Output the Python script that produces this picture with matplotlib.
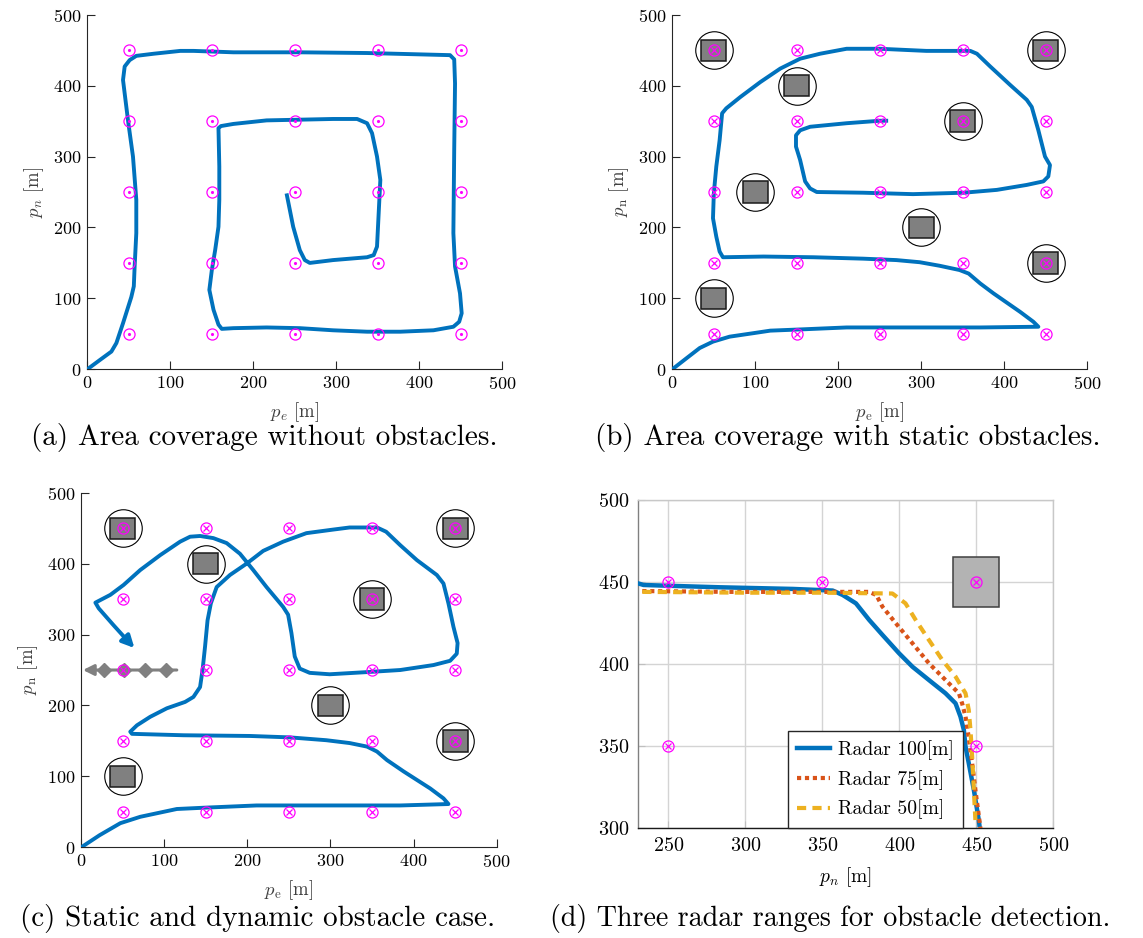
import matplotlib
matplotlib.use('Agg')
import matplotlib.pyplot as plt
from matplotlib.patches import Rectangle

plt.rcParams['font.family'] = 'cmr10'
plt.rcParams['mathtext.fontset'] = 'cm'
plt.rcParams['axes.formatter.use_mathtext'] = True

BLUE = '#0072BD'
ORANGE = '#D95319'
YELLOW = '#EDB120'
MAGENTA = '#FF00FF'

# waypoint grid
wp_cols = [50, 150, 250, 350, 450]
wp_rows = [50, 150, 250, 350, 450]

# (a) trajectory without obstacles
path_a_x = [0, 15, 29, 35, 43, 53, 56, 57, 59, 59, 55, 49, 43, 45, 51, 59, 80, 112, 128, 176,
            256, 337, 437, 442, 443, 442, 441, 443, 449, 451, 448, 441, 417, 377, 337, 296, 256,
            216, 176, 162, 158, 152, 147, 150, 154, 158, 159, 159, 158, 161, 176, 216, 256, 296,
            325, 337, 343, 349, 353, 351, 349, 345, 337, 296, 268, 262, 256, 248, 240]
path_a_y = [0, 13, 25, 37, 65, 102, 117, 145, 192, 239, 300, 351, 408, 427, 436, 442, 445, 449,
            449, 447, 447, 446, 443, 437, 403, 309, 192, 145, 107, 79, 67, 60, 55, 53, 53, 55, 58,
            59, 58, 57, 63, 84, 112, 140, 168, 201, 239, 286, 340, 343, 346, 351, 352, 353, 353,
            347, 333, 300, 267, 220, 173, 161, 158, 154, 150, 154, 168, 201, 248]

# (b) trajectory with static obstacles
path_b_x = [0, 17, 33, 49, 69, 98, 118, 150, 210, 290, 371, 441, 435, 419, 387, 371, 357, 346,
            322, 298, 270, 230, 170, 110, 61, 57, 53, 49, 50, 53, 57, 60, 65, 82, 106, 130, 154,
            178, 210, 250, 306, 359, 367, 383, 407, 427, 433, 441, 449, 455, 453, 447, 427, 391,
            351, 290, 230, 174, 166, 160, 154, 149, 149, 154, 166, 210, 250, 260]
path_b_y = [0, 15.5, 30, 39, 46, 51, 54.5, 56, 59, 59, 59, 60, 67, 81, 107, 121, 135, 140, 146,
            151, 154, 156, 158, 159, 158, 166, 187, 213, 248, 286, 323, 361, 368, 384, 405, 424,
            438, 445, 452, 452, 449, 449, 445, 427, 401, 380, 370, 337, 300, 288, 272, 265, 260,
            253, 249, 247, 249, 250, 255, 265, 295, 314, 330, 337, 342, 347, 350.5, 350.5]
obs_b_x = [50, 150, 350, 450, 100, 300, 450, 50]
obs_b_y = [450, 400, 350, 450, 250, 200, 150, 100]

# (c) trajectory with static and dynamic obstacles
path_c_x = [0, 22, 47, 71, 115, 151, 211, 303, 384, 442, 436, 420, 388, 368, 356, 344, 323, 295,
            251, 203, 123, 61, 59, 67, 83, 103, 125, 135, 143, 146, 149, 152, 156, 163, 179, 199,
            219, 243, 271, 303, 323, 356, 367, 384, 404, 428, 436, 442, 448, 453, 452, 444, 424,
            384, 343, 299, 275, 263, 257, 253, 249, 243, 223, 207, 191, 175, 159, 143, 131, 119,
            95, 71, 51, 35, 17, 21, 39, 56]
path_c_y = [0, 17, 34, 43, 54, 56, 59, 59, 59, 61, 69, 83, 107, 123, 135, 142, 147, 151, 155,
            157, 158, 160, 163, 172, 184, 196, 205, 212, 226, 250, 283, 320, 344, 367, 384, 400,
            418, 431, 443, 448, 451, 451, 445, 426, 405, 384, 372, 344, 311, 288, 273, 263, 257,
            250, 247, 244, 246, 252, 269, 302, 328, 339, 367, 391, 414, 429, 436, 439, 438, 431,
            412, 391, 370, 356, 345, 337, 313, 291]
arrow_c_tip = (64, 281)
obs_c_x = [50, 150, 350, 450, 300, 450, 50]
obs_c_y = [450, 400, 350, 450, 200, 150, 100]
dyn_x = [115, 2]
dyn_y = [250, 250]
dyn_mark_x = [27, 52, 77, 102]
dyn_mark_y = [250, 250, 250, 250]

# (d) zoom on three radar ranges
r100_x = [230.2, 233.8, 254.3, 283.4, 330.8, 356.7, 363.2, 371.8, 380.4, 389.1, 399.8, 408.5,
          419.2, 430.0, 436.5, 439.7, 441.9, 443.0, 445.1, 448.4, 451.6, 452.0]
r100_y = [449.2, 448.2, 447.6, 446.8, 445.8, 444.8, 442.1, 437.0, 426.9, 417.7, 406.6, 398.4,
          390.3, 382.2, 376.1, 368.0, 359.9, 349.7, 339.6, 323.3, 305.0, 302.0]
r75_x = [233, 290, 350, 380.4, 385, 389, 397.7, 408.5, 419.2, 430.0, 438.7, 440.8, 443.0,
         445.0, 447.3, 449.4, 452.7]
r75_y = [444.5, 444.0, 444.0, 444.0, 442.1, 435.0, 424.9, 412.7, 400.5, 390.3, 382.2, 376.0,
         368.0, 355.8, 339.6, 323.3, 300.0]
r50_x = [233, 300, 350, 395.5, 404.0, 410.6, 419.2, 427.9, 436.5, 443.0, 445.1, 446.2, 447.3,
         448.4, 449.4]
r50_y = [444.0, 443.5, 443.5, 443.0, 437.0, 426.9, 414.7, 402.5, 392.4, 382.2, 372.0, 359.9,
         343.6, 323.3, 305.0]
d_wp_x = [250, 350, 450, 250, 450]
d_wp_y = [450, 450, 450, 350, 350]
d_obs_x = [450]
d_obs_y = [450]
obs_side = 30

captions = ['(a) Area coverage without obstacles.',
            '(b) Area coverage with static obstacles.',
            '(c) Static and dynamic obstacle case.',
            '(d) Three radar ranges for obstacle detection.']

fig = plt.figure(figsize=(11.43, 9.38), dpi=100)
ax_a = fig.add_axes([0.0764, 0.6063, 0.3631, 0.378])
ax_b = fig.add_axes([0.5882, 0.6063, 0.3631, 0.378])
ax_c = fig.add_axes([0.0711, 0.0967, 0.3634, 0.378])
ax_d = fig.add_axes([0.5579, 0.1170, 0.3636, 0.350])


def style_map_axes(ax, upright):
    ax.set_xlim(0, 500)
    ax.set_ylim(0, 500)
    ax.set_xticks([0, 100, 200, 300, 400, 500])
    ax.set_yticks([0, 100, 200, 300, 400, 500])
    for s in ['top', 'right']:
        ax.spines[s].set_visible(False)
    for s in ['left', 'bottom']:
        ax.spines[s].set_color('#262626')
        ax.spines[s].set_linewidth(0.8)
    ax.tick_params(direction='in', length=5.5, width=0.8, labelsize=13, colors='#262626',
                   labelcolor='black', pad=4)
    if upright:
        ax.set_xlabel(r'$p_\mathrm{e}$ [m]', fontsize=13.5, color='#404040', labelpad=6)
        ax.set_ylabel(r'$p_\mathrm{n}$ [m]', fontsize=13.5, color='#404040', labelpad=5)
    else:
        ax.set_xlabel(r'$p_e$ [m]', fontsize=13.5, color='#404040', labelpad=6)
        ax.set_ylabel(r'$p_n$ [m]', fontsize=13.5, color='#404040', labelpad=5)


def draw_waypoints(ax, xs, ys, dot):
    ax.plot(xs, ys, 'o', ms=8, mfc='none', mec=MAGENTA, mew=0.9, zorder=6)
    if dot:
        ax.plot(xs, ys, '.', ms=2.5, color=MAGENTA, zorder=6)
    else:
        ax.plot(xs, ys, 'x', ms=4.5, color=MAGENTA, mew=0.9, zorder=6)


def draw_obstacles(ax, xs, ys, face, edge, ring):
    for x, y in zip(xs, ys):
        ax.add_patch(Rectangle((x - obs_side / 2, y - obs_side / 2), obs_side, obs_side,
                               facecolor=face, edgecolor=edge, lw=1.1, zorder=3))
    if ring:
        ax.plot(xs, ys, 'o', ms=27, mfc='none', mec='black', mew=0.8, zorder=3)


grid_x = [c for r in wp_rows for c in wp_cols]
grid_y = [r for r in wp_rows for c in wp_cols]

# (a)
style_map_axes(ax_a, upright=False)
ax_a.plot(path_a_x, path_a_y, color=BLUE, lw=2.8, solid_capstyle='butt', zorder=4)
draw_waypoints(ax_a, grid_x, grid_y, dot=True)

# (b)
style_map_axes(ax_b, upright=True)
draw_obstacles(ax_b, obs_b_x, obs_b_y, '#808080', '#1a1a1a', True)
ax_b.plot(path_b_x, path_b_y, color=BLUE, lw=2.8, solid_capstyle='butt', zorder=4)
draw_waypoints(ax_b, grid_x, grid_y, dot=False)

# (c)
style_map_axes(ax_c, upright=True)
draw_obstacles(ax_c, obs_c_x, obs_c_y, '#808080', '#1a1a1a', True)
ax_c.plot(path_c_x, path_c_y, color=BLUE, lw=2.8, solid_capstyle='butt', zorder=4)
ax_c.annotate('', xy=arrow_c_tip, xytext=(path_c_x[-1], path_c_y[-1]),
              arrowprops=dict(arrowstyle='-|>', color=BLUE, lw=2.8, mutation_scale=18,
                              shrinkA=0, shrinkB=0), zorder=4)
ax_c.annotate('', xy=(dyn_x[1], dyn_y[1]), xytext=(dyn_x[0], dyn_y[0]),
              arrowprops=dict(arrowstyle='-|>', color='#808080', lw=2.2, mutation_scale=16,
                              shrinkA=0, shrinkB=0), zorder=5)
ax_c.plot(dyn_mark_x, dyn_mark_y, 'D', ms=7.5, color='#808080', zorder=5)
draw_waypoints(ax_c, grid_x, grid_y, dot=False)

# (d)
ax_d.set_xlim(230, 500)
ax_d.set_ylim(300, 500)
ax_d.set_xticks([250, 300, 350, 400, 450, 500])
ax_d.set_yticks([300, 350, 400, 450, 500])
ax_d.grid(True, color='#d4d4d4', lw=1.0)
ax_d.set_axisbelow(True)
ax_d.spines['top'].set_color('#c8c8c8')
ax_d.spines['right'].set_color('#c8c8c8')
ax_d.spines['left'].set_color('#808080')
ax_d.spines['bottom'].set_color('#1a1a1a')
for s in ax_d.spines.values():
    s.set_linewidth(1.0)
ax_d.tick_params(direction='in', length=5, width=0.8, labelsize=14.5, colors='#bfbfbf',
                 labelcolor='black', pad=6)
draw_obstacles(ax_d, d_obs_x, d_obs_y, '#b3b3b3', '#404040', False)
ax_d.plot(r100_x, r100_y, color=BLUE, lw=3.2, label='Radar 100[m]', zorder=4)
ax_d.plot(r75_x, r75_y, color=ORANGE, lw=3.0, dashes=(1.0, 0.9), label='Radar 75[m]', zorder=4)
ax_d.plot(r50_x, r50_y, color=YELLOW, lw=3.0, dashes=(2.2, 1.5), label='Radar 50[m]', zorder=4)
draw_waypoints(ax_d, d_wp_x, d_wp_y, dot=False)
ax_d.set_xlabel(r'$p_n$ [m]', fontsize=14, labelpad=8)
leg = ax_d.legend(loc='lower right', bbox_to_anchor=(0.783, 0.0), fontsize=14.2, frameon=True,
                  fancybox=False, edgecolor='#262626', framealpha=1, handlelength=1.7,
                  handletextpad=0.4, borderpad=0.45, labelspacing=0.5, borderaxespad=0)
leg.get_frame().set_linewidth(1.0)
leg.set_zorder(7)

fig.text(0.231, 0.534, captions[0], fontsize=21, ha='center', va='center')
fig.text(0.742, 0.534, captions[1], fontsize=21, ha='center', va='center')
fig.text(0.225, 0.021, captions[2], fontsize=21, ha='center', va='center')
fig.text(0.726, 0.021, captions[3], fontsize=20.2, ha='center', va='center')

fig.savefig('out.png', dpi=100)
